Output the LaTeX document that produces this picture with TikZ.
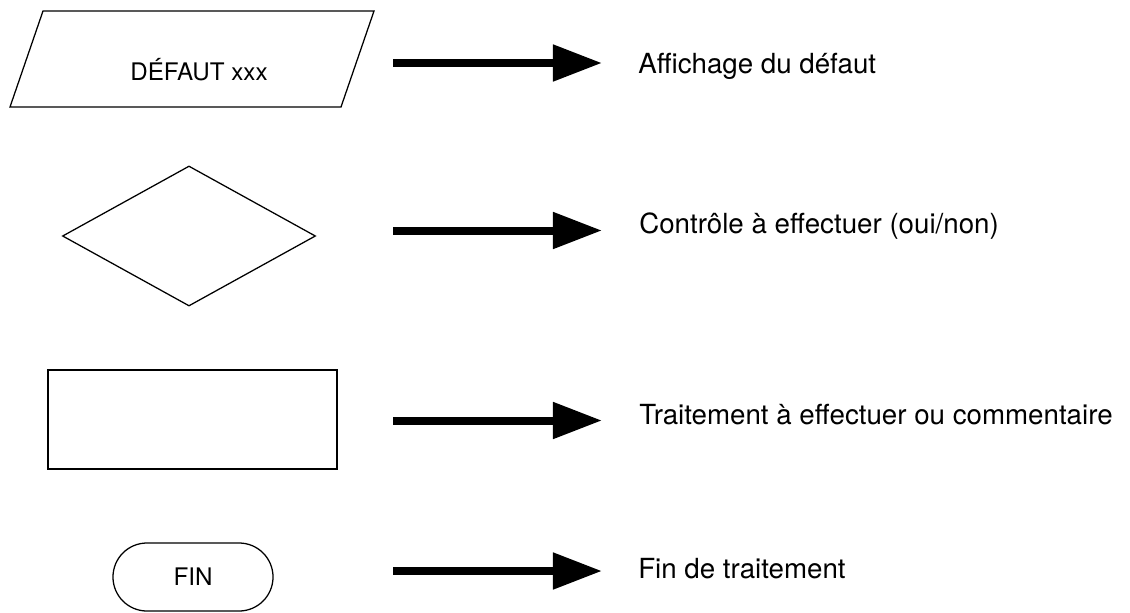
\documentclass[tikz,border=0pt]{standalone}
\usepackage{fontspec}
\setmainfont{TeX Gyre Heros}
\usepackage{tikz}
\usetikzlibrary{arrows.meta,positioning,shapes.geometric,shapes.misc}

\begin{document}
\begin{tikzpicture}[
    x=0.025cm, y=-0.025cm,
    shp/.style={
        draw=black,
        line width=0.9pt,
        inner sep=0pt,
        align=center
    },
    decision/.style={
        shp,
        diamond,
        minimum width=6.325cm,
        minimum height=3.5cm
    },
    process/.style={
        shp,
        rectangle,
        minimum width=7.225cm,
        minimum height=2.475cm
    },
    term/.style={
        shp,
        rounded rectangle,
        minimum width=4cm,
        minimum height=1.7cm
    },
    boxtxt/.style={font=\fontsize{17.2}{20}\selectfont, inner sep=0pt},
    lbl/.style={font=\fontsize{19.7}{23}\selectfont, inner sep=0pt, anchor=base west},
    arr/.style={-{Triangle[length=1.225cm,width=0.875cm]}, line width=0.2cm}
]
\useasboundingbox (0,0) rectangle (1130,612);

% symbols
\coordinate (p1) at (43,11);
\coordinate (p2) at (374,11);
\coordinate (p3) at (341,107);
\coordinate (p4) at (10,107);
\draw[shp] (p1) -- (p2) -- (p3) -- (p4) -- cycle;
\node[boxtxt] (defaut) at (199,70) {DÉFAUT xxx};
\node[decision] (controle) at (189,236) {};
\node[process] (traitement) at (192.5,419.5) {};
\node[term] (fin) at (193,577) {};
\node[boxtxt] (fintxt) at (fin.center) {FIN};

% arrows
\coordinate (a1) at (393,63);
\coordinate (b1) at (602,63);
\coordinate (a2) at (393,230.5);
\coordinate (b2) at (602,230.5);
\coordinate (a3) at (393,420.5);
\coordinate (b3) at (602,420.5);
\coordinate (a4) at (393,571);
\coordinate (b4) at (602,571);
\draw[arr] (a1) -- (b1);
\draw[arr] (a2) -- (b2);
\draw[arr] (a3) -- (b3);
\draw[arr] (a4) -- (b4);

% legend texts
\node[lbl] (t1) at (638,73) {Affichage du défaut};
\node[lbl] (t2) at (639,233) {Contrôle à effectuer (oui/non)};
\node[lbl] (t3) at (639,424) {Traitement à effectuer ou commentaire};
\node[lbl] (t4) at (638,578) {Fin de traitement};

\end{tikzpicture}
\end{document}
